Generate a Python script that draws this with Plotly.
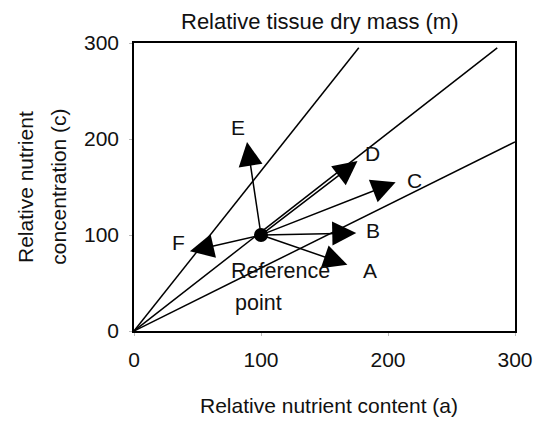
import plotly.graph_objects as go

# Isolines of relative tissue dry mass (from origin)
iso_end_a = [177, 286, 300]
iso_end_c = [295, 295, 197]

# Reference point
ref_a = 100
ref_c = 100

# Vectors from the reference point
arrow_labels = ["A", "B", "C", "D", "E", "F"]
arrow_a = [168, 175, 206, 176, 89, 44]
arrow_c = [69, 102, 155, 177, 197, 83]
label_a = [186, 188, 221, 188, 82, 35]
label_c = [63, 105, 157, 185, 212, 92]

x_ticks = [0, 100, 200, 300]
y_ticks = [0, 100, 200, 300]

FONT = "Liberation Sans, Arial, sans-serif"
TXT = "#111111"

fig = go.Figure()

for ea, ec in zip(iso_end_a, iso_end_c):
    fig.add_trace(go.Scatter(x=[0, ea], y=[0, ec], mode="lines",
                             line=dict(color="black", width=1.5),
                             showlegend=False, hoverinfo="skip"))

fig.add_trace(go.Scatter(x=[ref_a], y=[ref_c], mode="markers",
                         marker=dict(color="black", size=14),
                         showlegend=False, hoverinfo="skip"))

annotations = []
for lab, a, c, la, lc in zip(arrow_labels, arrow_a, arrow_c, label_a, label_c):
    annotations.append(dict(x=a, y=c, ax=ref_a, ay=ref_c, xref="x", yref="y",
                            axref="x", ayref="y", text="", showarrow=True,
                            arrowhead=2, arrowsize=3.2, arrowwidth=1.5,
                            arrowcolor="black"))
    annotations.append(dict(x=la, y=lc, xref="x", yref="y", text=lab,
                            showarrow=False, xanchor="center", yanchor="middle",
                            font=dict(size=21, color=TXT, family=FONT)))

annotations.append(dict(x=115, y=63, xref="x", yref="y", text="Reference",
                        showarrow=False, xanchor="center", yanchor="middle",
                        font=dict(size=21.5, color=TXT, family=FONT)))
annotations.append(dict(x=98, y=29, xref="x", yref="y", text="point",
                        showarrow=False, xanchor="center", yanchor="middle",
                        font=dict(size=21.5, color=TXT, family=FONT)))

# Titles
annotations.append(dict(x=0.488, y=1.076, xref="paper", yref="paper",
                        text="Relative tissue dry mass (m)", showarrow=False,
                        xanchor="center", yanchor="middle",
                        font=dict(size=22, color=TXT, family=FONT)))
annotations.append(dict(x=0.512, y=-0.257, xref="paper", yref="paper",
                        text="Relative nutrient content (a)", showarrow=False,
                        xanchor="center", yanchor="middle",
                        font=dict(size=21, color=TXT, family=FONT)))
annotations.append(dict(x=-0.286, y=0.5, xref="paper", yref="paper",
                        text="Relative nutrient", showarrow=False, textangle=-90,
                        xanchor="center", yanchor="middle",
                        font=dict(size=21, color=TXT, family=FONT)))
annotations.append(dict(x=-0.2, y=0.5, xref="paper", yref="paper",
                        text="concentration (c)", showarrow=False, textangle=-90,
                        xanchor="center", yanchor="middle",
                        font=dict(size=21, color=TXT, family=FONT)))

fig.update_layout(
    width=539, height=423,
    margin=dict(l=134, r=24, t=43, b=92),
    paper_bgcolor="white", plot_bgcolor="white",
    annotations=annotations,
    font=dict(family=FONT, size=21, color=TXT),
)
fig.update_xaxes(range=[0, 300], tickvals=x_ticks, showgrid=False, zeroline=False,
                 showline=True, linecolor="black", linewidth=1.5, mirror=True,
                 ticks="outside", ticklen=3, tickcolor="#bbbbbb", automargin=False,
                 ticklabelstandoff=6, tickfont=dict(size=21, color=TXT, family=FONT))
fig.update_yaxes(range=[0, 300], tickvals=y_ticks, showgrid=False, zeroline=False,
                 showline=True, linecolor="black", linewidth=1.5, mirror=True,
                 ticks="outside", ticklen=3, tickcolor="#bbbbbb", automargin=False,
                 ticklabelstandoff=6, tickfont=dict(size=21, color=TXT, family=FONT))

fig.write_html("out.html", config={"displayModeBar": False},
               post_script="document.body.style.margin='0';document.body.style.padding='0';")
